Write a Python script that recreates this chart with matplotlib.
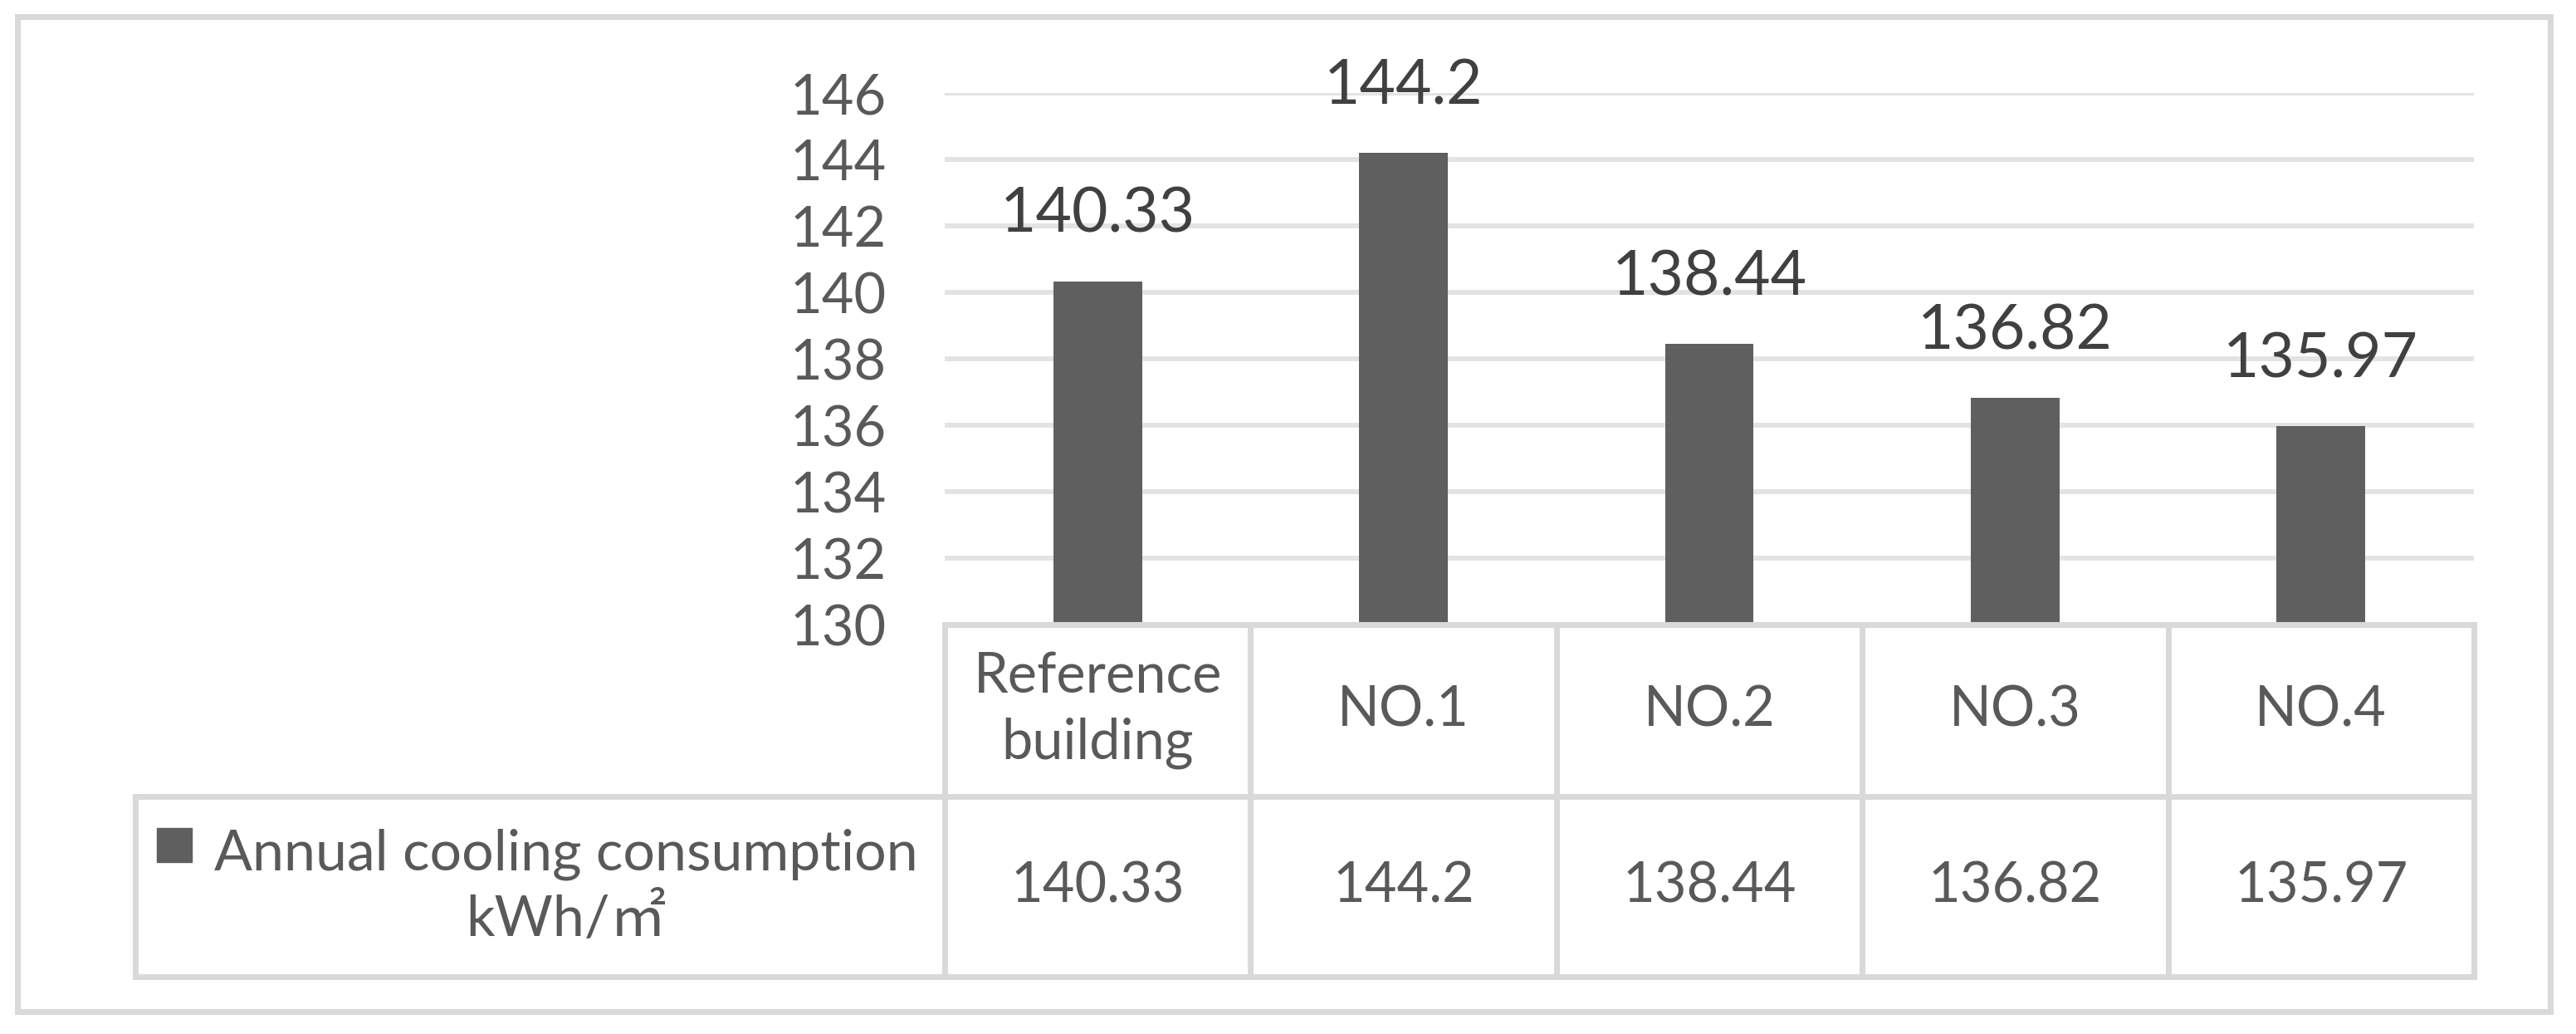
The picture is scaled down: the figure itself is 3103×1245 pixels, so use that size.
import matplotlib
matplotlib.use("Agg")
import matplotlib.pyplot as plt
from matplotlib.patches import Rectangle
from matplotlib.lines import Line2D

# data
categories = ["Reference\nbuilding", "NO.1", "NO.2", "NO.3", "NO.4"]
values = [140.33, 144.2, 138.44, 136.82, 135.97]
value_labels = ["140.33", "144.2", "138.44", "136.82", "135.97"]
series_name = "Annual cooling consumption\nkWh/㎡"
y_ticks = [130, 132, 134, 136, 138, 140, 142, 144, 146]

plt.rcParams["font.family"] = ["Lato", "Noto Sans CJK SC", "DejaVu Sans"]

W, H = 3103, 1245
PT = 0.72  # points per pixel at dpi 100

BAR = "#5f5f5f"
TXT = "#595959"
LBL = "#404040"
GRID = "#e3e3e3"
LINE = "#d9d9d9"


def fx(x):
    return x / W


def fy(y):
    return 1 - y / H


fig = plt.figure(figsize=(W / 100, H / 100), dpi=100)

# outer frame
fig.add_artist(Rectangle((fx(21), fy(1218)), fx(3072) - fx(21), fy(20) - fy(1218),
                         transform=fig.transFigure, fill=False,
                         edgecolor=LINE, linewidth=7 * PT))

# plot area
left, right, top, bottom = 1138, 2980, 112, 752
ax = fig.add_axes([fx(left), fy(bottom), (right - left) / W, (bottom - top) / H])
x = list(range(len(categories)))
ax.bar(x, values, width=0.29, color=BAR, zorder=3)
ax.set_xlim(-0.5, len(categories) - 0.5)
ax.set_ylim(y_ticks[0], y_ticks[-1])
ax.set_yticks(y_ticks)
ax.set_xticks([])
ax.yaxis.grid(True, color=GRID, linewidth=6 * PT, zorder=0)
ax.set_axisbelow(True)
for s in ax.spines.values():
    s.set_visible(False)
ax.tick_params(axis="y", length=0, pad=70 * PT, labelsize=48, labelcolor=TXT)

for xi, v, t in zip(x, values, value_labels):
    ax.annotate(t, (xi, v), xytext=(0, 59 * PT), textcoords="offset points",
                ha="center", va="baseline", fontsize=54, color=LBL,
                annotation_clip=False)

# data table under the plot
col_w = (right - left) / len(categories)
leg_left = 163
leg_cols = (left - leg_left) / col_w
tab_bottom = 1176
row_split = 959
tab = fig.add_axes([fx(leg_left), fy(tab_bottom), (right - leg_left) / W, (tab_bottom - bottom) / H])
tab.set_xlim(-0.5 - leg_cols, len(categories) - 0.5)
tab.set_ylim(0, tab_bottom - bottom)
tab.axis("off")

mid = tab_bottom - row_split
top_t = tab_bottom - bottom
x0 = -0.5 - leg_cols
x1 = len(categories) - 0.5
kw = dict(color=LINE, linewidth=7 * PT, solid_capstyle="projecting", clip_on=False)
tab.add_line(Line2D([-0.5, x1], [top_t, top_t], **kw))
tab.add_line(Line2D([x0, x1], [mid, mid], **kw))
tab.add_line(Line2D([x0, x1], [0, 0], **kw))
tab.add_line(Line2D([x0, x0], [0, mid], **kw))
for k in range(len(categories) + 1):
    tab.add_line(Line2D([k - 0.5, k - 0.5], [0, top_t], **kw))

for xi, c in zip(x, categories):
    tab.text(xi, (mid + top_t) / 2, c, ha="center", va="center",
             fontsize=48, color=TXT, linespacing=1.35)
for xi, t in zip(x, value_labels):
    tab.text(xi, mid / 2, t, ha="center", va="center", fontsize=48, color=TXT)

# legend key and series name
fig.add_artist(Rectangle((fx(189), fy(1038)), fx(231) - fx(189), fy(997) - fy(1038),
                         transform=fig.transFigure, color=BAR))
fig.text(fx(682), fy(1068), series_name, ha="center", va="center",
         multialignment="center", fontsize=49, color=TXT, linespacing=1.35)

fig.savefig("out.png", dpi=100)
